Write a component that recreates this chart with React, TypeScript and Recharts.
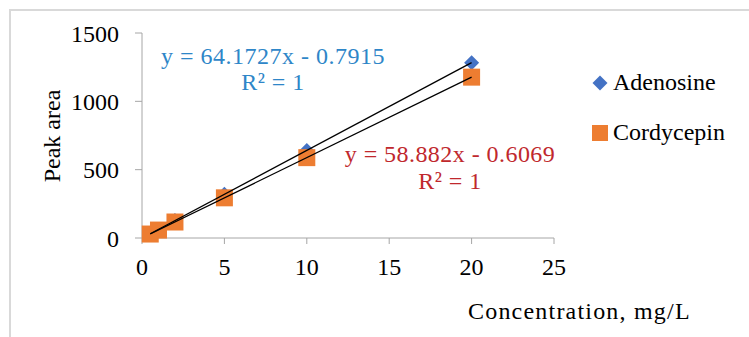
import React from 'react';
import { ScatterChart, Scatter, XAxis, YAxis } from 'recharts';

const xTicks = [0, 5, 10, 15, 20, 25];
const yTicks = [0, 500, 1000, 1500];

const adenosine = [
  { x: 0.5, y: 31 },
  { x: 1, y: 63 },
  { x: 2, y: 128 },
  { x: 5, y: 320 },
  { x: 10, y: 641 },
  { x: 20, y: 1283 },
];

const cordycepin = [
  { x: 0.5, y: 29 },
  { x: 1, y: 58 },
  { x: 2, y: 117 },
  { x: 5, y: 294 },
  { x: 10, y: 588 },
  { x: 20, y: 1177 },
];

// trendline end points
const adenosineTrend = [
  { x: 0.5, y: 31 },
  { x: 20, y: 1283 },
];
const cordycepinTrend = [
  { x: 0.5, y: 29 },
  { x: 20, y: 1177 },
];

const FONT = '"Liberation Serif", "Times New Roman", serif';
const AXIS = '#a6a6a6';
const BLUE = '#4472c4';
const ORANGE = '#ed7d31';

const Diamond = (props: any) => {
  const { cx, cy } = props;
  const r = 7.5;
  return <polygon points={`${cx},${cy - r} ${cx + r},${cy} ${cx},${cy + r} ${cx - r},${cy}`} fill={BLUE} />;
};

const Square = (props: any) => {
  const { cx, cy } = props;
  const s = 17;
  return <rect x={cx - s / 2} y={cy - s / 2} width={s} height={s} fill={ORANGE} />;
};

const NoShape = () => <g />;

const XTick = (props: any) => {
  const { x, y, payload } = props;
  return (
    <text x={x} y={y} dy="0.71em" textAnchor="middle" fill="#000" fontFamily={FONT} fontSize={24}>
      {payload.value}
    </text>
  );
};

const YTick = (props: any) => {
  const { x, y, payload } = props;
  return (
    <text x={x} y={y} dy="0.355em" textAnchor="end" fill="#000" fontFamily={FONT} fontSize={24}>
      {payload.value}
    </text>
  );
};

const textBase: React.CSSProperties = {
  position: 'absolute',
  fontFamily: FONT,
  fontSize: 24,
  lineHeight: '26px',
  whiteSpace: 'nowrap',
};

export default function App() {
  return (
    <div style={{ position: 'absolute', left: 0, top: 0, width: 749, height: 337, background: '#fff', overflow: 'hidden', fontFamily: FONT }}>
      <div style={{ position: 'absolute', left: 9, top: 9, width: 760, height: 340, borderTop: '2px solid #d9d9d9', borderLeft: '2px solid #d9d9d9' }} />
      <ScatterChart width={749} height={337} margin={{ top: 33, right: 195, bottom: 69, left: 82 }} style={{ fontFamily: FONT }}>
        <XAxis
          type="number"
          dataKey="x"
          domain={[0, 25]}
          ticks={xTicks}
          height={30}
          stroke={AXIS}
          tickSize={6}
          tickMargin={14}
          tick={<XTick />}
        />
        <YAxis
          type="number"
          dataKey="y"
          domain={[0, 1500]}
          ticks={yTicks}
          width={60}
          stroke={AXIS}
          tickSize={7}
          tickMargin={16}
          tick={<YTick />}
        />
        <Scatter name="Adenosine" data={adenosine} shape={<Diamond />} fill={BLUE} isAnimationActive={false} />
        <Scatter name="Cordycepin" data={cordycepin} shape={<Square />} fill={ORANGE} isAnimationActive={false} />
        <Scatter data={adenosineTrend} line={{ stroke: '#000', strokeWidth: 1.3 }} shape={<NoShape />} legendType="none" isAnimationActive={false} />
        <Scatter data={cordycepinTrend} line={{ stroke: '#000', strokeWidth: 1.3 }} shape={<NoShape />} legendType="none" isAnimationActive={false} />
      </ScatterChart>

      {/* legend */}
      <svg style={{ position: 'absolute', left: 592, top: 75 }} width={16} height={16}>
        <polygon points="8,0.5 15.5,8 8,15.5 0.5,8" fill={BLUE} />
      </svg>
      <div style={{ ...textBase, left: 613, top: 69 }}>Adenosine</div>
      <svg style={{ position: 'absolute', left: 592, top: 125 }} width={16} height={16}>
        <rect x={0} y={0} width={16} height={16} fill={ORANGE} />
      </svg>
      <div style={{ ...textBase, left: 613, top: 119 }}>Cordycepin</div>

      {/* trendline equations */}
      <div style={{ ...textBase, left: 273, top: 43, transform: 'translateX(-50%)', color: '#2e86c8', textAlign: 'center', letterSpacing: 0.5 }}>
        <div>y = 64.1727x - 0.7915</div>
        <div>R² = 1</div>
      </div>
      <div style={{ ...textBase, left: 450, top: 141, transform: 'translateX(-50%)', color: '#c0282d', textAlign: 'center', lineHeight: '27px', letterSpacing: 0.45 }}>
        <div>y = 58.882x - 0.6069</div>
        <div>R² = 1</div>
      </div>

      {/* axis titles */}
      <div style={{ ...textBase, left: 52, top: 136, transform: 'translate(-50%, -50%) rotate(-90deg)' }}>
        Peak area
      </div>
      <div style={{ ...textBase, left: 468, top: 298, letterSpacing: 1.2 }}>
        Concentration, mg/L
      </div>
    </div>
  );
}
